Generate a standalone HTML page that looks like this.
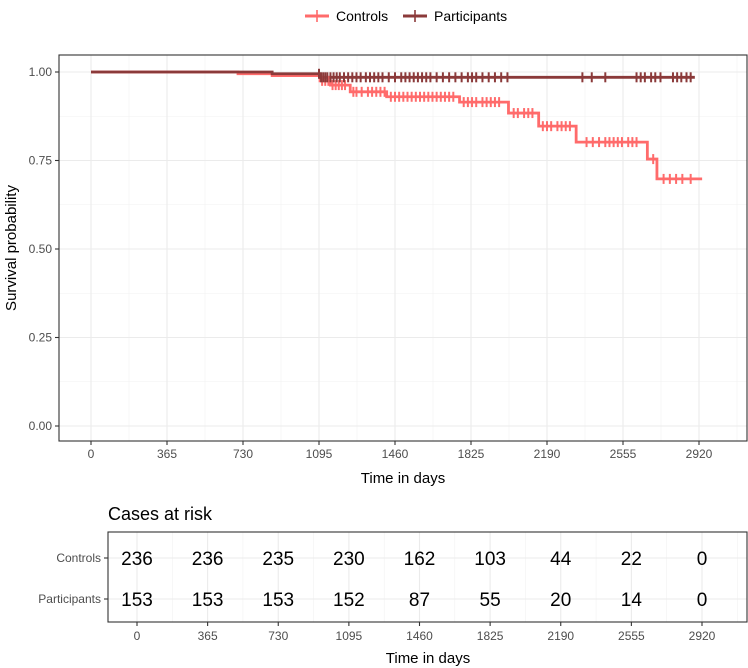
<!DOCTYPE html>
<html><head><meta charset="utf-8"><style>
body{margin:0;background:#fff;}
svg{display:block;font-family:"Liberation Sans",Arial,sans-serif;}
</style></head><body>
<svg id="chart" width="748" height="668"></svg>
<script>
const xTicks=[0,365,730,1095,1460,1825,2190,2555,2920];
const yTicks=[0,0.25,0.5,0.75,1.0];
const yTickLabels=["0.00","0.25","0.50","0.75","1.00"];
const controlsTimes=[0,706,870,1100,1150,1245,1420,1770,2005,2150,2330,2672,2718,2935];
const controlsSurv=[1,0.995,0.99,0.975,0.963,0.944,0.93,0.915,0.884,0.847,0.802,0.754,0.698,0.698];
const partTimes=[0,870,1100,2900];
const partSurv=[1,0.995,0.985,0.985];
const controlsCensor=[1110,1125,1140,1160,1175,1190,1205,1220,1260,1275,1300,1330,1350,1370,1390,1410,1440,1460,1480,1500,1520,1540,1560,1580,1600,1620,1640,1660,1680,1700,1720,1740,1790,1810,1830,1850,1880,1900,1920,1940,1960,2030,2050,2080,2100,2120,2170,2190,2210,2240,2260,2280,2300,2380,2410,2440,2470,2490,2510,2530,2550,2580,2600,2620,2700,2750,2780,2810,2840,2880];
const partCensor=[1095,1105,1115,1125,1135,1150,1165,1180,1195,1215,1235,1255,1275,1295,1320,1340,1360,1380,1400,1430,1460,1490,1510,1530,1550,1570,1590,1610,1630,1660,1690,1720,1750,1780,1810,1830,1850,1880,1910,1940,1970,2000,2360,2405,2470,2620,2640,2660,2690,2710,2735,2795,2815,2835,2860,2880];
const riskGroups=["Controls","Participants"];
const riskControls=[236,236,235,230,162,103,44,22,0];
const riskParticipants=[153,153,153,152,87,55,20,14,0];

const NS="http://www.w3.org/2000/svg";
const svg=document.getElementById('chart');
function mk(tag,attrs,parent,text){const e=document.createElementNS(NS,tag);for(const k in attrs)e.setAttribute(k,attrs[k]);if(text!==undefined)e.textContent=text;(parent||svg).appendChild(e);return e;}
const X=t=>91+t*608/2920;
const Y=s=>426-s*(426-72);
const X2=t=>137+t*(702-137)/2920;
const C1="#ff6b6b",C2="#8b3a3a";

// legend
const lg=mk('g',{},svg);


[[C1,"Controls",305],[C2,"Participants",403]].forEach(([c,l,x])=>{
  const g=mk('g',{},lg);
  
  
  mk('line',{x1:x,y1:16,x2:x+24,y2:16,stroke:c,'stroke-width':3},g);
  mk('line',{x1:x+12,y1:10,x2:x+12,y2:22,stroke:c,'stroke-width':1.6},g);
  mk('text',{x:x+31,y:21,'font-size':14,fill:'#000'},g,l);
});

// main panel
const panel=mk('g',{},svg);


const minorX=[];for(let i=0;i<xTicks.length-1;i++)minorX.push((xTicks[i]+xTicks[i+1])/2);
minorX.push(-182.5);minorX.push(3102.5);
minorX.forEach(t=>{if(X(t)>59&&X(t)<747)mk('line',{x1:X(t),y1:55,x2:X(t),y2:441,stroke:'#f2f2f2','stroke-width':0.6},panel);});
[0.125,0.375,0.625,0.875].forEach(v=>mk('line',{x1:59,y1:Y(v),x2:747,y2:Y(v),stroke:'#f2f2f2','stroke-width':0.6},panel));
xTicks.forEach(t=>mk('line',{x1:X(t),y1:55,x2:X(t),y2:441,stroke:'#ebebeb','stroke-width':1.1},panel));
yTicks.forEach(v=>mk('line',{x1:59,y1:Y(v),x2:747,y2:Y(v),stroke:'#ebebeb','stroke-width':1.1},panel));

function stepPath(ts,ss){let d=`M${X(ts[0])},${Y(ss[0])}`;for(let i=1;i<ts.length;i++){d+=`H${X(ts[i])}V${Y(ss[i])}`;}return d;}
function survAt(ts,ss,t){let s=ss[0];for(let i=0;i<ts.length;i++){if(ts[i]<=t)s=ss[i];}return s;}
const pc=mk('path',{d:stepPath(controlsTimes,controlsSurv),fill:'none',stroke:C1,'stroke-width':2.8},panel);


const pp=mk('path',{d:stepPath(partTimes,partSurv),fill:'none',stroke:C2,'stroke-width':2.8},panel);


controlsCensor.forEach(t=>{const y=Y(survAt(controlsTimes,controlsSurv,t));
  const m=mk('line',{x1:X(t),y1:y-5,x2:X(t),y2:y+5,stroke:C1,'stroke-width':2},panel);
  
  });
partCensor.forEach(t=>{const y=Y(survAt(partTimes,partSurv,t));
  const m=mk('line',{x1:X(t),y1:y-5,x2:X(t),y2:y+5,stroke:C2,'stroke-width':2},panel);
  
  });
mk('rect',{x:59,y:55,width:688,height:386,fill:'none',stroke:'#333','stroke-width':1.1},panel);
yTicks.forEach((v,i)=>{mk('line',{x1:55,y1:Y(v),x2:59,y2:Y(v),stroke:'#333','stroke-width':1.1},panel);
  mk('text',{x:52,y:Y(v)+4,'text-anchor':'end','font-size':12,fill:'#4d4d4d'},panel,yTickLabels[i]);});
xTicks.forEach(t=>{mk('line',{x1:X(t),y1:441,x2:X(t),y2:445,stroke:'#333','stroke-width':1.1},panel);
  mk('text',{x:X(t),y:458,'text-anchor':'middle','font-size':12,fill:'#4d4d4d'},panel,String(t));});
const xt=mk('text',{x:403,y:483,'text-anchor':'middle','font-size':15,fill:'#000'},svg,'Time in days');

const yt=mk('text',{x:0,y:0,'text-anchor':'middle','font-size':15,fill:'#000',transform:'translate(16,248) rotate(-90)'},svg,'Survival probability');


// risk table
const rt=mk('g',{},svg);


mk('text',{x:108,y:520,'font-size':18,fill:'#000'},rt,'Cases at risk');
const minor2=[];for(let i=0;i<xTicks.length-1;i++)minor2.push((xTicks[i]+xTicks[i+1])/2);minor2.push(3102.5);
minor2.forEach(t=>{if(X2(t)<747)mk('line',{x1:X2(t),y1:532,x2:X2(t),y2:622,stroke:'#f2f2f2','stroke-width':0.6},rt);});
xTicks.forEach(t=>mk('line',{x1:X2(t),y1:532,x2:X2(t),y2:622,stroke:'#ebebeb','stroke-width':1.1},rt));
const rowY=[558,599];
rowY.forEach(y=>mk('line',{x1:108,y1:y,x2:747,y2:y,stroke:'#ebebeb','stroke-width':1.1},rt));
[riskControls,riskParticipants].forEach((arr,r)=>{
  arr.forEach((v,i)=>{const t=mk('text',{x:X2(xTicks[i]),y:rowY[r]+7,'text-anchor':'middle','font-size':19,fill:'#000'},rt,String(v));
    });
  mk('line',{x1:104,y1:rowY[r],x2:108,y2:rowY[r],stroke:'#333','stroke-width':1.1},rt);
  mk('text',{x:101,y:rowY[r]+4,'text-anchor':'end','font-size':12,fill:'#4d4d4d'},rt,riskGroups[r]);
});
mk('rect',{x:108,y:532,width:639,height:90,fill:'none',stroke:'#333','stroke-width':1.1},rt);
xTicks.forEach(t=>{mk('line',{x1:X2(t),y1:622,x2:X2(t),y2:626,stroke:'#333','stroke-width':1.1},rt);
  mk('text',{x:X2(t),y:640,'text-anchor':'middle','font-size':12,fill:'#4d4d4d'},rt,String(t));});
const xt2=mk('text',{x:428,y:663,'text-anchor':'middle','font-size':15,fill:'#000'},svg,'Time in days');

</script>
</body></html>
